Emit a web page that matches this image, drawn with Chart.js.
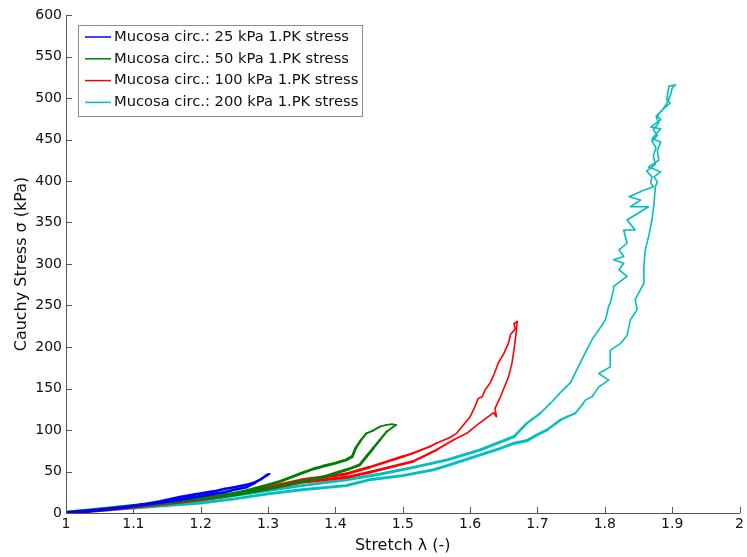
<!DOCTYPE html>
<html>
<head>
<meta charset="utf-8">
<script src="https://cdn.jsdelivr.net/npm/chart.js@4/dist/chart.umd.min.js"></script>
<style>
html,body{margin:0;padding:0;background:#fff;}
#wrap{width:747px;height:557px;position:relative;}
</style>
</head>
<body>
<div id="wrap"><canvas id="c" width="747" height="557"></canvas></div>
<script>
// ---- Data (stretch λ, Cauchy stress σ in kPa), traced as closed loading/unloading loops ----
const seriesLabels = [
  "Mucosa circ.: 25 kPa 1.PK stress",
  "Mucosa circ.: 50 kPa 1.PK stress",
  "Mucosa circ.: 100 kPa 1.PK stress",
  "Mucosa circ.: 200 kPa 1.PK stress"
];
const seriesColors = ["#0000FF", "#008000", "#FF0000", "#00BFBF"];

const blueStretch = [1.000,1.020,1.040,1.060,1.080,1.100,1.120,1.140,1.169,1.190,1.219,1.235,1.250,1.268,1.280,1.290,1.298,1.302,
  1.298,1.290,1.280,1.268,1.250,1.235,1.219,1.190,1.169,1.140,1.120,1.100,1.080,1.050,1.020,1.000];
const blueStress = [0,1.5,3,4.5,6.5,8.5,11,14,19,22,26,29,31,34,37,41,45,47,
  46,41,36,31,28,25,23,19,16,12.5,10.5,8,6,3.5,1.5,0.5];

const greenStretch = [1.000,1.050,1.100,1.150,1.200,1.250,1.300,1.350,1.380,1.400,1.420,1.436,1.446,1.456,1.466,1.476,1.486,1.490,
  1.484,1.475,1.466,1.455,1.446,1.438,1.430,1.425,1.416,1.400,1.380,1.367,1.350,1.318,1.300,1.268,1.250,1.200,1.150,1.100,1.050,1.000];
const greenStress = [0,4,8,12,17,22,29,38,43,48,53,58,68,78,88,98,104,106,
  107,106,104,99,96,88,78,68,64,60,56,53,48,38,34,27,24,18,13,9,5,1];

const redStretch = [1.000,1.050,1.100,1.150,1.200,1.250,1.300,1.350,1.416,1.450,1.515,1.550,1.575,1.595,1.610,1.620,1.630,1.635,1.639,1.637,1.645,1.650,1.657,1.662,1.665,1.668,1.670,
  1.665,1.667,1.660,1.657,1.650,1.642,1.636,1.630,1.622,1.618,1.612,1.606,1.600,1.590,1.580,1.570,1.550,1.540,1.515,1.500,1.450,1.416,1.350,1.300,1.250,1.200,1.150,1.100,1.050,1.010];
const redStress = [0,3,7,11,16,22,29,37,43,49,62,76,88,96,106,112,118,121,116,126,140,150,164,180,196,215,231,
  228,222,215,205,192,181,168,157,148,140,138,126,116,106,96,91,84,80,72,68,55,47,40,31,23,17,12,8,4,1];

const cyanStretch = [1.000,1.050,1.100,1.150,1.200,1.250,1.300,1.350,1.416,1.450,1.500,1.545,1.566,1.615,1.645,1.665,1.684,1.699,1.714,1.734,1.744,1.756,1.768,1.771,1.781,1.791,1.806,1.791,1.808,1.808,1.823,1.833,1.838,1.848,1.845,1.858,1.858,1.860,1.865,1.870,1.873,1.875,1.878,1.873,1.883,1.865,1.880,1.878,1.883,1.870,1.883,1.868,1.883,1.878,1.883,1.897,1.892,1.895,1.905,
  1.900,1.898,1.893,1.885,1.876,1.880,1.872,1.878,1.870,1.876,1.872,1.875,1.862,1.870,1.868,1.872,1.855,1.836,1.853,1.838,1.865,1.833,1.845,1.828,1.833,1.821,1.828,1.813,1.828,1.821,1.833,1.813,1.813,1.808,1.806,1.801,1.798,1.781,1.766,1.749,1.734,1.719,1.704,1.684,1.665,1.615,1.566,1.516,1.467,1.416,1.350,1.300,1.250,1.200,1.150,1.100,1.050,1.000];
const cyanStress = [0,3,6,9,12,17,23,28,33,40,45,52,57,70,78,84,87,94,100,112,116,120,132,136,140,152,160,168,176,196,204,214,233,245,257,277,297,317,333,353,373,393,399,405,411,417,425,437,447,451,463,465,474,478,484,494,498,514,516,
  512,505,495,485,478,470,462,455,448,440,430,420,412,405,398,393,388,381,377,369,369,353,341,341,325,317,309,305,301,293,285,273,269,253,250,233,229,209,185,157,145,132,120,108,92,76,64,55,47,40,33,27,21,15,11,7,4,1];

const xTicks = [1,1.1,1.2,1.3,1.4,1.5,1.6,1.7,1.8,1.9,2];
const yTicks = [0,50,100,150,200,250,300,350,400,450,500,550,600];

function toPts(xs, ys){ return xs.map((x,i)=>({x:x,y:ys[i]})); }
const allX = [blueStretch, greenStretch, redStretch, cyanStretch];
const allY = [blueStress, greenStress, redStress, cyanStress];
// stress level below which the recorded trace appears as a thick noisy band
const noisyBelow = [60, 110, 90, 130];

const FONT = "'DejaVu Sans', Verdana, sans-serif";
const AXIS_COLOR = "#555555";

function segWidth(i){
  return c => {
    const s = (c.p0.parsed.y + c.p1.parsed.y) / 2;
    const t = Math.max(0, Math.min(1, (noisyBelow[i] - s) / 40));
    return 1.6 + 1.3 * t;
  };
}

const inwardTicks = {
  id: 'inwardTicks',
  afterDraw(chart){
    const ctx = chart.ctx, a = chart.chartArea;
    const xs = chart.scales.x, ys = chart.scales.y;
    ctx.save();
    ctx.strokeStyle = AXIS_COLOR; ctx.lineWidth = 1;
    ctx.beginPath();
    xs.ticks.forEach(t => { const px = Math.round(xs.getPixelForValue(t.value)) + 0.5; ctx.moveTo(px, a.bottom); ctx.lineTo(px, a.bottom - 6); });
    ys.ticks.forEach(t => { const py = Math.round(ys.getPixelForValue(t.value)) + 0.5; ctx.moveTo(a.left, py); ctx.lineTo(a.left + 6, py); });
    ctx.stroke();
    ctx.restore();
  }
};

const boxLegend = {
  id: 'boxLegend',
  afterDraw(chart){
    const ctx = chart.ctx;
    const left = 78, top = 25, w = 284, h = 91, rowH = 21.8;
    ctx.save();
    ctx.fillStyle = '#fff'; ctx.fillRect(left, top, w, h);
    ctx.strokeStyle = '#8c8c8c'; ctx.lineWidth = 1;
    ctx.strokeRect(left + 0.5, top + 0.5, w, h);
    ctx.font = "14.7px " + FONT; ctx.textBaseline = 'middle';
    chart.data.datasets.forEach((ds, i) => {
      const cy = top + 12 + i * rowH;
      ctx.strokeStyle = ds.borderColor; ctx.lineWidth = 1.5;
      ctx.beginPath(); ctx.moveTo(85, cy); ctx.lineTo(111, cy); ctx.stroke();
      ctx.fillStyle = '#111';
      ctx.fillText(ds.label, 114, cy);
    });
    ctx.restore();
  }
};

new Chart(document.getElementById('c'), {
  type: 'scatter',
  data: {
    datasets: seriesLabels.map((lab, i) => ({
      label: lab,
      data: toPts(allX[i], allY[i]),
      borderColor: seriesColors[i],
      backgroundColor: seriesColors[i],
      showLine: true,
      borderWidth: 1.6,
      borderCapStyle: 'round',
      borderJoinStyle: 'round',
      segment: { borderWidth: segWidth(i) },
      pointRadius: 0,
      tension: 0,
      fill: false
    }))
  },
  options: {
    responsive: false,
    animation: false,
    layout: { padding: { top: 15, right: 7, left: 0, bottom: 0 } },
    plugins: { legend: { display: false }, tooltip: { enabled: false } },
    scales: {
      x: {
        type: 'linear', min: 1, max: 2,
        afterBuildTicks(s){ s.ticks = xTicks.map(v => ({value: v})); },
        afterFit(s){ s.height = 44; },
        grid: { display: true, drawOnChartArea: false, drawTicks: false, color: AXIS_COLOR },
        border: { display: true, color: AXIS_COLOR, width: 1 },
        ticks: { color: '#111', font: { family: FONT, size: 14 }, padding: 3, maxRotation: 0,
                 callback: v => String(v) },
        title: { display: true, text: 'Stretch λ (-)', color: '#111', font: { family: FONT, size: 16 }, padding: { top: 0, bottom: 2 } }
      },
      y: {
        type: 'linear', min: 0, max: 600,
        afterBuildTicks(s){ s.ticks = yTicks.map(v => ({value: v})); },
        afterFit(s){ s.width = 66; },
        grid: { display: true, drawOnChartArea: false, drawTicks: false, color: AXIS_COLOR },
        border: { display: true, color: AXIS_COLOR, width: 1 },
        ticks: { color: '#111', font: { family: FONT, size: 14 }, padding: 4, callback: v => String(v) },
        title: { display: true, text: 'Cauchy Stress σ (kPa)', color: '#111', font: { family: FONT, size: 16 }, padding: { top: 12, bottom: 0 } }
      }
    }
  },
  plugins: [inwardTicks, boxLegend]
});
</script>
</body>
</html>
